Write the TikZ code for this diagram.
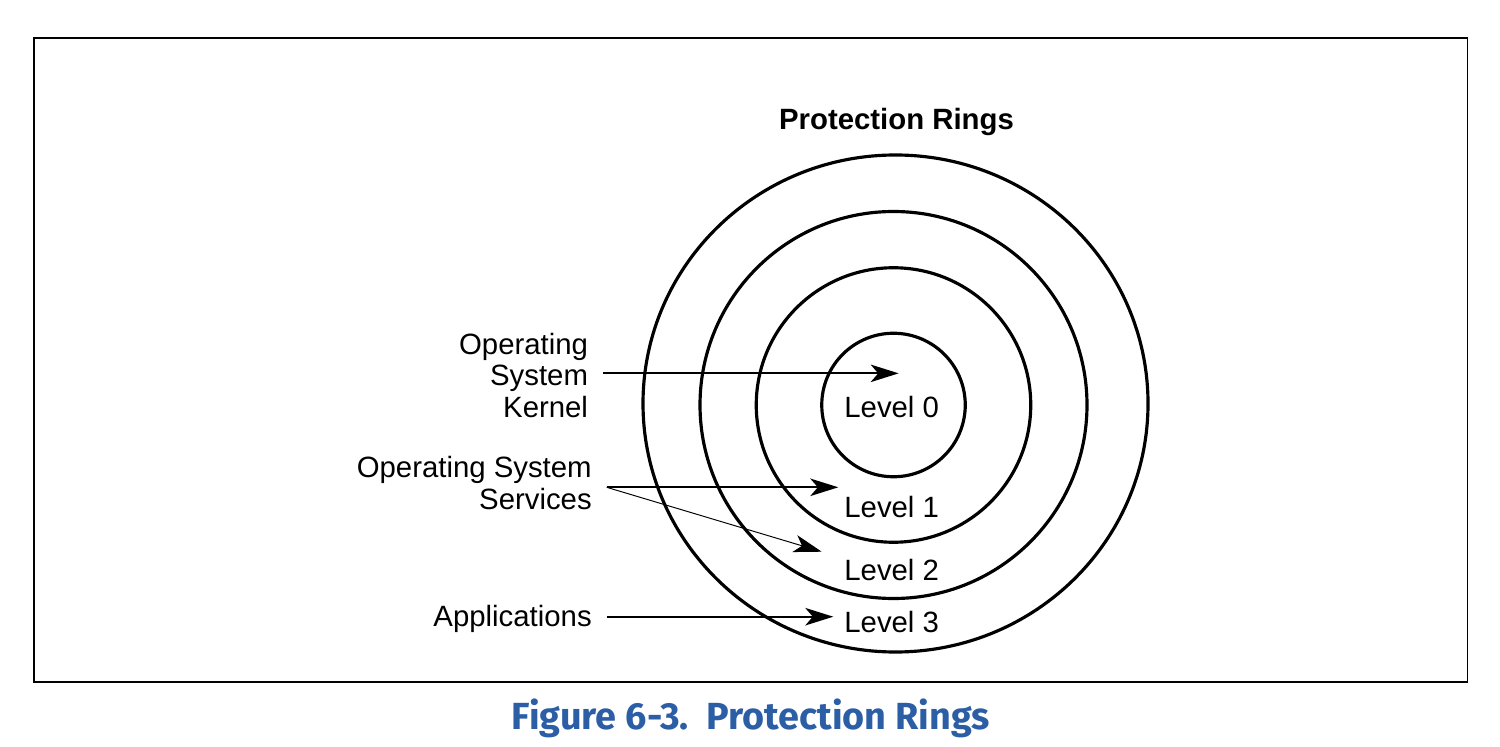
\documentclass[tikz,border=0pt]{standalone}
\usepackage{fontspec}
\setmainfont{Liberation Sans}
\newfontfamily\capfont{Fira Sans}
\usepackage{tikz}
\usetikzlibrary{arrows.meta}
\tikzset{>={Stealth[length=5.6mm,width=3.5mm,inset=1.5mm]}}
\definecolor{capblue}{HTML}{2C5EA5}
\tikzset{
  ring/.style={line width=1.8pt},
  lbl/.style={inner sep=0, outer xsep=3mm, align=right, anchor=base east,
    font=\fontsize{16.7}{18}\selectfont},
  lvl/.style={inner sep=0, anchor=base west, font=\fontsize{16.7}{18}\selectfont},
  pointer/.style={->, line width=1.1pt}
}

\begin{document}
\begin{tikzpicture}
    \useasboundingbox (0,0) rectangle (30,14.92);

    % frame
    \draw[line width=1.1pt] (0.68,1.28) rectangle (29.35,14.16);

    % title
    \node[anchor=base, inner sep=0, font=\bfseries\fontsize{16.7}{18}\selectfont] (title) at (17.93,12.32) {Protection Rings};

    % rings
    \coordinate (c) at (17.87,6.82);
    \draw[ring] (c) circle (1.435);
    \draw[ring] (c) circle (2.745);
    \draw[ring] (c) circle (3.87);
    \draw[ring] (17.91,6.85) ellipse (5.05 and 4.97);

    % levels
    \node[lvl] (L0) at (16.88,6.566) {Level 0};
    \node[lvl] (L1) at (16.88,4.574) {Level 1};
    \node[lvl] (L2) at (16.88,3.32) {Level 2};
    \node[lvl] (L3) at (16.88,2.274) {Level 3};

    % kernel
    \node[lbl] (kernel) at (12.06,6.574) {Operating\\System\\Kernel};
    \coordinate (t0) at (17.974,7.453);
    \draw[pointer] (kernel.east |- t0) -- (t0);

    % services
    \node[lbl] (services) at (12.134,4.734) {Operating System\\Services};
    \coordinate (t1) at (16.766,5.174);
    \coordinate (t2) at (16.434,3.886);
    \draw[pointer] (services.east |- t1) -- (t1);
    \draw[pointer, line width=0.55pt] (services.east |- t1) -- (t2);

    % applications
    \node[lbl] (apps) at (12.134,2.386) {Applications};
    \coordinate (t3) at (16.666,2.586);
    \draw[pointer] (apps.east |- t3) -- (t3);

    % caption
    \node[anchor=base, inner sep=0, text=capblue, font=\capfont\bfseries\fontsize{21.5}{24}\selectfont] (caption) at (15.02,0.34) {Figure 6-3.\ \ Protection Rings};
\end{tikzpicture}
\end{document}
